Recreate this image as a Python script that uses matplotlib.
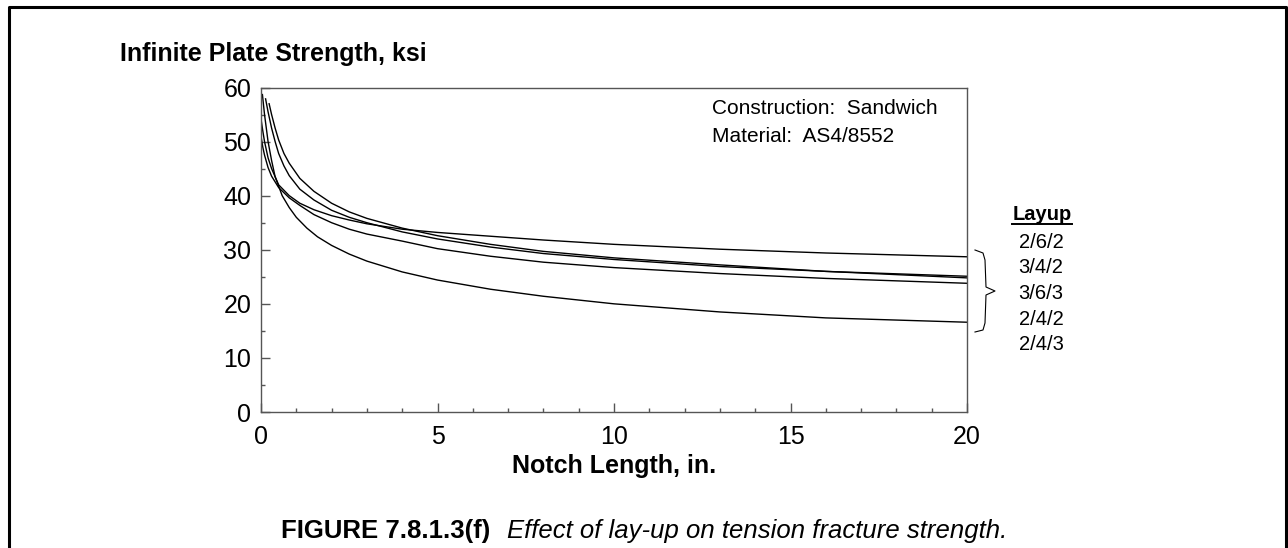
import matplotlib.pyplot as plt
from matplotlib.lines import Line2D
from matplotlib.ticker import MultipleLocator

plt.rcParams['font.family'] = ['Liberation Sans', 'DejaVu Sans']

# Curves (notch length in., strength ksi)
x_262 = [0.0, 0.05, 0.1, 0.2, 0.3, 0.5, 0.8, 1.1, 1.5, 2, 2.5, 3, 4, 5, 6.5, 8, 10, 13, 16, 20]
y_262 = [54.2, 52.0, 50.0, 47.0, 45.0, 42.0, 40.0, 38.6, 37.4, 36.3, 35.5, 34.8, 33.8, 33.2, 32.5, 31.8, 31.0, 30.1, 29.4, 28.7]

x_342 = [0.13, 0.2, 0.3, 0.4, 0.5, 0.65, 0.8, 1.1, 1.5, 2, 2.5, 3, 4, 5, 6.5, 8, 10, 13, 16, 20]
y_342 = [57.9, 55.5, 52.5, 50.0, 47.8, 45.5, 43.7, 41.2, 39.2, 37.3, 36.0, 35.0, 33.3, 32.0, 30.5, 29.3, 28.2, 26.9, 26.0, 25.1]

x_363 = [0.23, 0.3, 0.4, 0.5, 0.65, 0.8, 1.1, 1.5, 2, 2.5, 3, 4, 5, 6.5, 8, 10, 13, 16, 20]
y_363 = [57.0, 55.0, 52.5, 50.3, 47.8, 46.0, 43.2, 40.8, 38.6, 37.0, 35.8, 34.0, 32.6, 31.0, 29.7, 28.5, 27.2, 26.0, 24.8]

x_242 = [0.0, 0.05, 0.1, 0.2, 0.3, 0.5, 0.8, 1.1, 1.5, 2, 2.5, 3, 4, 5, 6.5, 8, 10, 13, 16, 20]
y_242 = [51.0, 49.0, 47.5, 45.2, 43.6, 41.5, 39.6, 38.2, 36.5, 35.0, 33.8, 32.9, 31.6, 30.2, 28.8, 27.7, 26.7, 25.6, 24.7, 23.8]

x_243 = [0.04, 0.1, 0.2, 0.3, 0.4, 0.6, 0.8, 1.0, 1.3, 1.6, 2, 2.5, 3, 4, 5, 6.5, 8, 10, 13, 16, 20]
y_243 = [58.7, 55.0, 50.0, 46.5, 43.5, 40.0, 37.8, 36.0, 34.0, 32.4, 30.8, 29.2, 27.9, 25.9, 24.4, 22.7, 21.4, 20.0, 18.5, 17.4, 16.6]

layups = ['2/6/2', '3/4/2', '3/6/3', '2/4/2', '2/4/3']

W, H = 1288, 548


def fx(px):
    return px / W


def fy(py):
    return 1 - py / H


fig = plt.figure(figsize=(12.88, 5.48), dpi=100)
ax = fig.add_axes([fx(261), fy(412), fx(967) - fx(261), fy(87.5) - fy(412)])

for xs, ys in [(x_262, y_262), (x_342, y_342), (x_363, y_363), (x_242, y_242), (x_243, y_243)]:
    ax.plot(xs, ys, color='black', lw=1.0)

ax.set_xlim(0, 20)
ax.set_ylim(0, 60)
ax.xaxis.set_major_locator(MultipleLocator(5))
ax.xaxis.set_minor_locator(MultipleLocator(1))
ax.yaxis.set_major_locator(MultipleLocator(10))
ax.yaxis.set_minor_locator(MultipleLocator(5))
ax.tick_params(which='both', direction='in', top=False, right=False, labelsize=18,
               color='#555555', width=1.0)
ax.tick_params(which='major', length=6.3)
ax.tick_params(which='minor', length=3.1)
ax.tick_params(axis='x', pad=9)
ax.tick_params(axis='y', pad=7)
for s in ax.spines.values():
    s.set_color('#555555')
    s.set_linewidth(1.0)

fig.text(fx(614), fy(466), 'Notch Length, in.', fontsize=18, fontweight='bold',
         ha='center', va='center')
fig.text(fx(120), fy(61), 'Infinite Plate Strength, ksi', fontsize=18,
         fontweight='bold', ha='left', va='baseline')

fig.text(fx(712), fy(109), 'Construction:  Sandwich', fontsize=15, ha='left', va='center')
fig.text(fx(712), fy(136), 'Material:  AS4/8552', fontsize=15, ha='left', va='center')

# layup list with brace
fig.text(fx(1042), fy(214), 'Layup', fontsize=14.5, fontweight='bold', ha='center', va='center')
fig.add_artist(Line2D([fx(1012), fx(1072)], [fy(223.5), fy(223.5)], color='black', lw=1.4))
for i, lab in enumerate(layups):
    fig.text(fx(1041), fy(242 + 25.7 * i), lab, fontsize=14.5, ha='center', va='center')
bx = [975, 983, 985, 986, 995, 986, 985, 983, 975]
by = [250, 253, 260, 287, 291, 295, 323, 330, 332]
fig.add_artist(Line2D([fx(v) for v in bx], [fy(v) for v in by], color='black', lw=0.8))

fig.text(fx(281), fy(531), 'FIGURE 7.8.1.3(f)', fontsize=18.5, fontweight='bold',
         ha='left', va='center')
fig.text(fx(507), fy(531), 'Effect of lay-up on tension fracture strength.', fontsize=18.5,
         fontstyle='italic', ha='left', va='center')

# outer frame, open at the bottom
fig.add_artist(Line2D([fx(9.3), fx(9.3), fx(1286.3), fx(1286.3)],
                      [0, fy(6.8), fy(6.8), 0], color='black', lw=2.2))

fig.savefig('out.png', dpi=100)
